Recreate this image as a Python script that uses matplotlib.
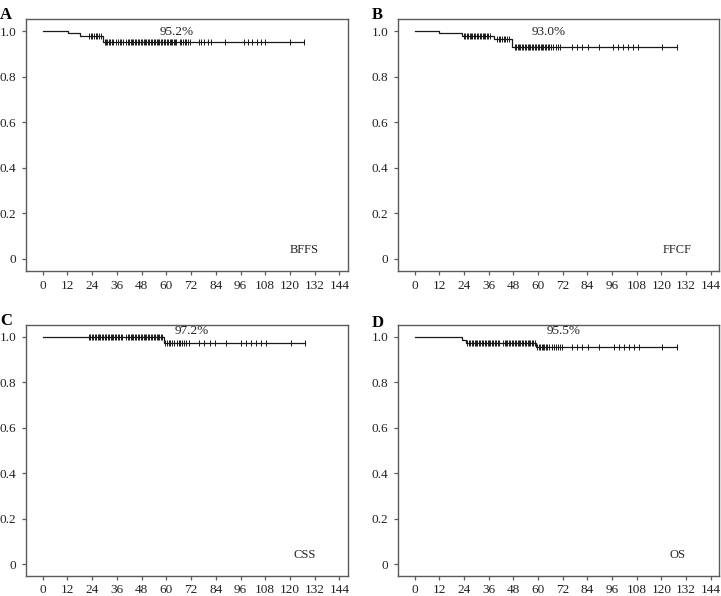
import numpy as np
import matplotlib
matplotlib.use("Agg")
import matplotlib.pyplot as plt

plt.rcParams["font.family"] = ["Liberation Serif", "DejaVu Serif"]

# -----------------------------
# Data (months, survival)
# -----------------------------
x_ticks = [0, 12, 24, 36, 48, 60, 72, 84, 96, 108, 120, 132, 144]
y_ticks = [0, 0.2, 0.4, 0.6, 0.8, 1.0]
y_tick_labels = ["0", "0.2", "0.4", "0.6", "0.8", "1.0"]

tail_censor = [75.8, 77.0, 78.5, 80.1, 81.8, 88.7, 97.5, 99.5, 101.7,
               103.9, 106.0, 108.1, 119.8, 127.0]

# A - BFFS
a_event_t = [0, 12.3, 18.0, 29.2]
a_surv = [1.0, 0.992, 0.979, 0.952]
a_censor = [22.6, 23.4, 24.2, 25.0, 25.8, 26.6, 27.4, 28.3,
            30.1, 30.8, 31.5, 32.2, 32.9, 33.6, 34.2,
            35.8, 36.6, 37.4, 38.2, 39.0,
            40.6, 41.3, 42.0, 42.7, 43.4, 44.1, 44.8, 45.5, 46.2, 46.9,
            47.6, 48.3, 49.0, 49.7, 50.4, 51.1, 51.8, 52.5, 53.2, 53.9,
            54.6, 55.3, 56.0, 56.7, 57.4, 58.1, 58.8, 59.5, 60.2, 60.9,
            61.6, 62.3, 63.0, 63.7, 64.4, 64.9,
            66.5, 67.3, 68.1, 68.9, 69.7, 70.5, 71.3] + tail_censor
a_pct = "95.2%"
a_name = "BFFS"

# B - FFCF
b_event_t = [0, 11.8, 23.1, 38.5, 47.5]
b_surv = [1.0, 0.992, 0.979, 0.967, 0.930]
b_censor = [23.9, 24.6, 25.3, 26.0, 26.7, 27.4, 28.1, 28.8, 29.5, 30.2,
            30.9, 31.6, 32.3, 33.0, 33.7, 34.4, 35.1, 35.8, 36.6,
            40.0, 40.8, 41.6, 42.4, 43.2, 44.0, 44.8, 45.7,
            48.6, 49.3, 50.0, 50.7, 51.4, 52.1, 52.8, 53.5, 54.2, 54.9,
            55.6, 56.3, 57.0, 57.7, 58.4, 59.1, 59.8, 60.5, 61.2, 61.9,
            62.6, 63.3, 64.0, 64.7, 65.4, 66.1, 67.5, 68.5, 69.5, 70.8,
            76.4, 78.9, 81.3, 84.5, 89.4, 96.6, 99.1, 101.5, 103.9, 106.4,
            108.8, 120.4, 127.8]
b_pct = "93.0%"
b_name = "FFCF"

# C - CSS
c_event_t = [0, 58.7]
c_surv = [1.0, 0.972]
c_censor = [22.5, 23.2, 23.9, 24.6, 25.3, 26.0, 26.7, 27.4, 28.1, 28.8,
            29.5, 30.2, 30.9, 31.6, 32.3, 33.0, 33.7, 34.4, 35.1, 35.8,
            36.5, 37.2, 37.9, 38.6,
            40.6, 41.3, 42.0, 42.7, 43.4, 44.1, 44.8, 45.5, 46.2, 46.9,
            47.6, 48.3, 49.0, 49.7, 50.4, 51.1, 51.8, 52.5, 53.2, 53.9,
            54.6, 55.3, 56.0, 56.7, 57.4, 58.1,
            59.6, 60.4, 61.2, 62.0, 62.8, 63.6, 65.2, 66.0, 66.8, 67.6,
            68.4, 69.5, 71.0,
            76.0, 78.5, 81.0, 83.4, 89.0, 96.3, 98.8, 101.2, 103.6, 106.1,
            108.5, 120.6, 127.5]
c_pct = "97.2%"
c_name = "CSS"

# D - OS
d_event_t = [0, 23.1, 24.7, 59.0]
d_surv = [1.0, 0.987, 0.975, 0.955]
d_censor = [25.6, 26.3, 27.0, 27.7, 28.4, 29.1, 29.8, 30.5, 31.2, 31.9,
            32.6, 33.3, 34.0, 34.7, 35.4, 36.1, 36.8, 37.5, 38.2, 38.9,
            39.6, 40.3, 41.0, 43.0, 43.7, 44.4, 45.1, 45.8, 46.5, 47.2,
            47.9, 48.6, 49.3, 50.0, 50.7, 51.4, 52.1, 52.8, 53.5, 54.2,
            54.9, 55.6, 56.3, 57.0, 57.7, 58.4,
            59.6, 60.3, 61.0, 61.7, 62.4, 63.1, 63.8, 64.5, 65.2, 66.6,
            67.6, 68.6, 69.6, 70.6, 71.6,
            76.4, 78.9, 81.3, 84.5, 89.8, 96.8, 99.2, 101.6, 104.0, 106.5,
            108.9, 120.4, 127.8]
d_pct = "95.5%"
d_name = "OS"

panels = [
    ("A", a_event_t, a_surv, a_censor, a_pct, a_name),
    ("B", b_event_t, b_surv, b_censor, b_pct, b_name),
    ("C", c_event_t, c_surv, c_censor, c_pct, c_name),
    ("D", d_event_t, d_surv, d_censor, d_pct, d_name),
]

# axes rectangles [left, bottom, width, height] in figure fractions
rects = [
    [0.0361, 0.5458, 0.4462, 0.4215],
    [0.5524, 0.5458, 0.4448, 0.4215],
    [0.0361, 0.0336, 0.4462, 0.4211],
    [0.5524, 0.0336, 0.4448, 0.4211],
]
letter_pos = [(0.0, 0.975), (0.516, 0.975), (0.0, 0.462), (0.516, 0.458)]
# label positions in data units
pct_xy = [(65, 0.995), (65, 0.995), (72.3, 1.027), (72.6, 1.025)]
name_xy = [(127, 0.038), (127.5, 0.038), (127, 0.040), (127.7, 0.040)]

spine_col = "#5a5a5a"
line_col = "#1a1a1a"
text_col = "#222222"

fig = plt.figure(figsize=(7.21, 5.96), dpi=100)

for i, (letter, ev_t, surv, cens, pct, name) in enumerate(panels):
    ax = fig.add_axes(rects[i])

    end_t = max(cens)
    t_line = list(ev_t) + [end_t]
    s_line = list(surv) + [surv[-1]]
    ax.step(t_line, s_line, where="post", color=line_col, lw=0.9)

    idx = np.searchsorted(ev_t, cens, side="right") - 1
    s_cens = np.array(surv)[idx]
    ax.plot(cens, s_cens, ls="none", marker="|", ms=4.5, mew=0.7,
            color=line_col)

    ax.set_xlim(-8, 148)
    ax.set_ylim(-0.052, 1.052)
    ax.set_xticks(x_ticks)
    ax.set_yticks(y_ticks)
    ax.set_yticklabels(y_tick_labels)

    for sp in ax.spines.values():
        sp.set_color(spine_col)
        sp.set_linewidth(1.0)
    ax.tick_params(direction="out", length=3, width=0.9, color=spine_col,
                   labelsize=9.5, labelcolor=text_col)
    ax.tick_params(axis="x", pad=4 if i < 2 else 3)
    ax.tick_params(axis="y", pad=4)

    ax.text(pct_xy[i][0], pct_xy[i][1], pct, ha="center", va="center",
            fontsize=9.5, color=text_col)
    ax.text(name_xy[i][0], name_xy[i][1], name, ha="center",
            va="center", fontsize=9, color=text_col)

    fig.text(letter_pos[i][0], letter_pos[i][1], letter, fontsize=12,
             fontweight="bold", ha="left", va="center")

fig.savefig("out.png", dpi=100)
